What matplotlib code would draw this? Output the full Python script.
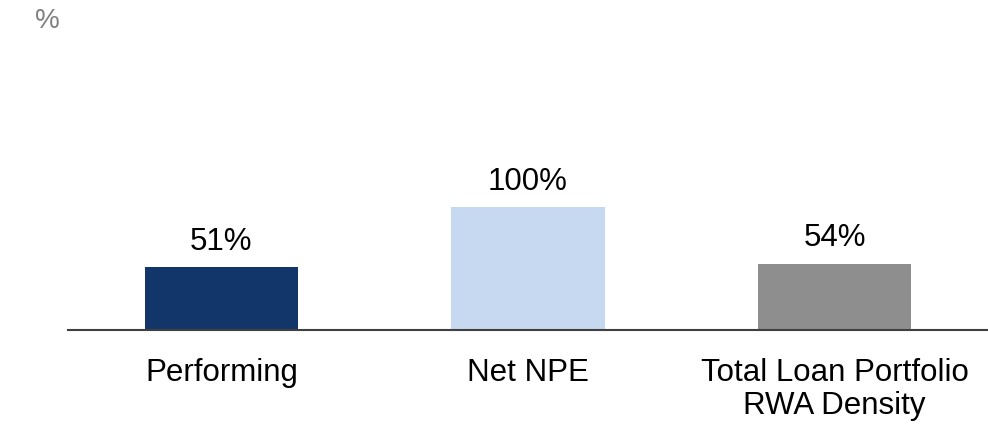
import matplotlib.pyplot as plt

plt.rcParams['font.family'] = ['Liberation Sans', 'DejaVu Sans']

categories = ['Performing', 'Net NPE', 'Total Loan Portfolio\nRWA Density']
values = [51, 100, 54]
value_labels = ['51%', '100%', '54%']
colors = ['#13366A', '#C7D9F0', '#8E8E8E']

fig = plt.figure(figsize=(9.88, 4.25), dpi=100)
ax = fig.add_axes([68 / 988, 1 - 330 / 425, 920 / 988, 330 / 425])

x = list(range(len(categories)))
bars = ax.bar(x, values, width=0.5, color=colors)

# value labels above bars
for rect, lab in zip(bars, value_labels):
    ax.annotate(lab, (rect.get_x() + rect.get_width() / 2, rect.get_height()),
                xytext=(0, 12.5), textcoords='offset points',
                ha='center', va='baseline', fontsize=22.5, color='black')

ax.set_xlim(-0.5, 2.5)
ax.set_ylim(0, 330 / 1.23)
ax.set_xticks(x)
ax.set_xticklabels(categories, fontsize=22.5, linespacing=1.12)
ax.tick_params(axis='x', length=0, pad=20)
ax.set_yticks([])

for s in ['top', 'right', 'left']:
    ax.spines[s].set_visible(False)
ax.spines['bottom'].set_color('#404040')
ax.spines['bottom'].set_linewidth(1.5)

fig.text(35 / 988, 1 - 28 / 425, '%', fontsize=20, color='#808080', ha='left', va='baseline')

fig.savefig('out.png', dpi=100)
